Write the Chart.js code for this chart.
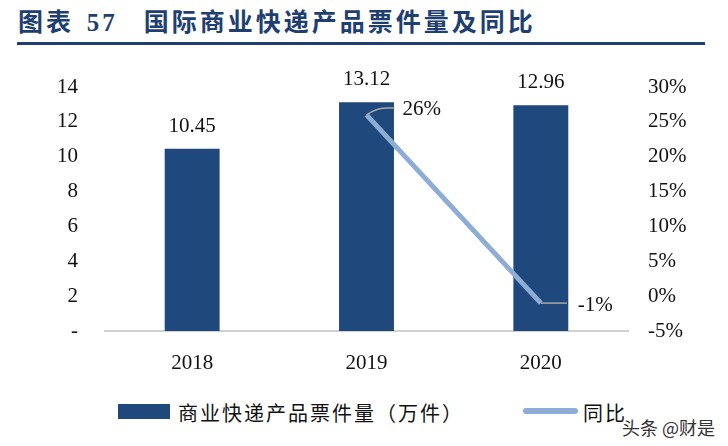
<!DOCTYPE html>
<html>
<head>
<meta charset="utf-8">
<script src="https://cdn.jsdelivr.net/npm/chart.js@4"></script>
<style>
  body { margin: 0; width: 728px; height: 446px; background: #fff; position: relative; overflow: hidden; font-family: "Liberation Serif", serif; }
  #title { position: absolute; left: 18px; top: 2px; font-family: "Noto Sans CJK SC", sans-serif; font-weight: bold; font-size: 25px; color: #1F3F73; letter-spacing: 3px; white-space: nowrap; }
  #title .num { font-family: "Liberation Serif", serif; margin-left: 4px; }
  #rule { position: absolute; left: 17px; top: 42px; width: 688px; height: 3px; background: #1F3F73; }
  #chartBox { position: absolute; left: 0; top: 60px; width: 728px; height: 320px; }
  .legend { position: absolute; top: 398px; font-family: "Noto Sans CJK SC", sans-serif; font-size: 20px; color: #111; letter-spacing: 2px; white-space: nowrap; }
  .swatch { position: absolute; }
  #mark { position: absolute; left: 622px; top: 414px; font-family: "Noto Sans CJK SC", sans-serif; font-size: 18px; color: #333; }
</style>
</head>
<body>
<div id="title">图表 <span class="num">57</span>&nbsp;&nbsp; 国际商业快递产品票件量及同比</div>
<div id="rule"></div>
<div id="chartBox"><canvas id="myChart"></canvas></div>
<div class="swatch" style="left:118px;top:404px;width:52px;height:15px;background:#1F497D"></div>
<div class="legend" style="left:178px">商业快递产品票件量（万件）</div>
<div class="swatch" style="left:523px;top:408px;width:55px;height:6px;border-radius:3px;background:#8EADD6"></div>
<div class="legend" style="left:583px">同比</div>
<div id="mark">头条 @财是</div>
<script>
const years = ['2018', '2019', '2020'];
const volume = [10.45, 13.12, 12.96];
const yoy = [null, 26, -1];

const serif = { family: 'Liberation Serif', size: 21 };

const labelPlugin = {
    id: 'labels',
    afterDatasetsDraw(chart) {
        const ctx = chart.ctx;
        ctx.save();
        ctx.font = '21px "Liberation Serif"';
        ctx.fillStyle = '#111';
        ctx.textAlign = 'center';
        ctx.textBaseline = 'bottom';
        chart.getDatasetMeta(1).data.forEach((bar, i) => {
            ctx.fillText(volume[i].toFixed(2), bar.x, bar.y - 12);
        });
        const pts = chart.getDatasetMeta(0).data;
        ctx.strokeStyle = '#A6A6A6';
        ctx.lineWidth = 1.5;
        ctx.textAlign = 'left';
        ctx.textBaseline = 'middle';
        // 26%
        let p = pts[1];
        ctx.beginPath();
        ctx.moveTo(p.x, p.y);
        ctx.quadraticCurveTo(p.x + 10, p.y - 7, p.x + 19, p.y - 7);
        ctx.lineTo(p.x + 28, p.y - 7);
        ctx.stroke();
        ctx.fillText(yoy[1] + '%', p.x + 36, p.y - 5);
        // -1%
        p = pts[2];
        ctx.beginPath();
        ctx.moveTo(p.x, p.y);
        ctx.lineTo(p.x + 26, p.y);
        ctx.stroke();
        ctx.fillText(yoy[2] + '%', p.x + 37, p.y + 2);
        ctx.restore();
    }
};

new Chart(document.getElementById('myChart'), {
    type: 'bar',
    data: {
        labels: years,
        datasets: [{
            type: 'line',
            label: '同比',
            data: yoy,
            yAxisID: 'y1',
            borderColor: '#8EADD6',
            borderWidth: 5,
            pointRadius: 0,
            order: 0
        }, {
            label: '商业快递产品票件量（万件）',
            data: volume,
            yAxisID: 'y',
            backgroundColor: '#1F497D',
            barPercentage: 0.315,
            categoryPercentage: 1,
            order: 1
        }]
    },
    options: {
        responsive: true,
        maintainAspectRatio: false,
        animation: false,
        layout: { padding: { top: 27, left: 0, right: 0, bottom: 0 } },
        plugins: { legend: { display: false }, tooltip: { enabled: false } },
        scales: {
            x: {
                grid: { display: false },
                border: { display: true, color: '#D0D0D0', width: 2 },
                ticks: { color: '#111', font: serif, padding: 12 },
                afterFit: s => { s.height = 49; }
            },
            y: {
                position: 'left',
                min: 0, max: 14,
                // tickLength only pushes the labels sideways; grid itself is hidden
                grid: { display: false, drawTicks: true, tickLength: 24 },
                border: { display: false },
                ticks: {
                    stepSize: 2, color: '#111', font: serif, padding: 3,
                    callback: v => v === 0 ? '-' : v
                },
                afterFit: s => { s.width = 105; }
            },
            y1: {
                position: 'right',
                min: -5, max: 30,
                grid: { display: false, drawTicks: true, tickLength: 17 },
                border: { display: false },
                ticks: {
                    stepSize: 5, color: '#111', font: serif, padding: 3,
                    callback: v => v + '%'
                },
                afterFit: s => { s.width = 100; }
            }
        }
    },
    plugins: [labelPlugin]
});
</script>
</body>
</html>
